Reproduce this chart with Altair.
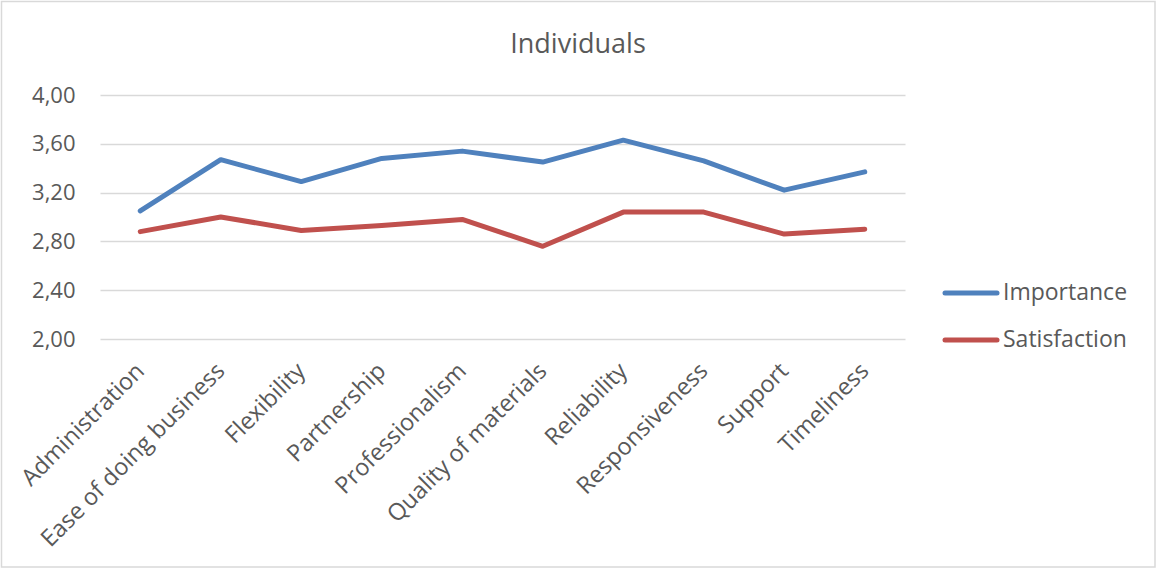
import altair as alt
import pandas as pd

# Survey attributes and mean scores for the "Individuals" segment
categories = [
    "Administration", "Ease of doing business", "Flexibility", "Partnership",
    "Professionalism", "Quality of materials", "Reliability", "Responsiveness",
    "Support", "Timeliness",
]
importance = [3.05, 3.47, 3.29, 3.48, 3.54, 3.45, 3.63, 3.46, 3.22, 3.37]
satisfaction = [2.88, 3.00, 2.89, 2.93, 2.98, 2.76, 3.04, 3.04, 2.86, 2.90]

series_names = ["Importance", "Satisfaction"]
series_colors = ["#4F81BD", "#C0504D"]
y_ticks = [2.0, 2.4, 2.8, 3.2, 3.6, 4.0]
chart_title = "Individuals"

TEXT = "#595959"
GRID = "#D9D9D9"
FONT = "Open Sans"

rows = []
for name, values in zip(series_names, [importance, satisfaction]):
    for cat, v in zip(categories, values):
        rows.append({"category": cat, "series": name, "value": v})
df = pd.DataFrame(rows)

W, H = 805, 244
PAD_L, PAD_T = 100, 95

lines = alt.Chart(df).mark_line(strokeWidth=5, strokeCap="round", strokeJoin="round").encode(
    x=alt.X("category:N", sort=categories,
            scale=alt.Scale(type="point", padding=0.5),
            axis=alt.Axis(title=None, labelAngle=-45, labelAlign="right", labelBaseline="middle",
                          labelPadding=28, ticks=False, domain=False, grid=False,
                          labelFont=FONT, labelFontSize=23.5, labelColor=TEXT, labelLimit=400)),
    y=alt.Y("value:Q", scale=alt.Scale(domain=[2, 4], nice=False, zero=False),
            axis=alt.Axis(title=None, values=y_ticks, ticks=False, domain=False,
                          labelExpr="replace(format(datum.value, '.2f'), '.', ',')",
                          labelPadding=25, labelFont=FONT, labelFontSize=22, labelColor=TEXT,
                          grid=True, gridColor=GRID, gridWidth=1.5)),
    color=alt.Color("series:N", scale=alt.Scale(domain=series_names, range=series_colors), legend=None),
)

# Chart title, centred over the whole canvas
title = alt.Chart(pd.DataFrame({"label": [chart_title]})).mark_text(
    align="center", baseline="alphabetic", font=FONT, fontSize=27, color=TEXT).encode(
    x=alt.value(578 - PAD_L), y=alt.value(53 - PAD_T), text="label:N")

# Hand-placed legend to the right of the plot
legend_layers = []
for i, (name, color) in enumerate(zip(series_names, series_colors)):
    ypos = 198 + i * 47
    src = pd.DataFrame({"series": [name]})
    legend_layers.append(
        alt.Chart(src).mark_rule(strokeWidth=5, strokeCap="round", color=color).encode(
            x=alt.value(845), x2=alt.value(897), y=alt.value(ypos))
    )
    legend_layers.append(
        alt.Chart(src).mark_text(align="left", baseline="middle", font=FONT, fontSize=23,
                                 color=TEXT).encode(
            x=alt.value(903), y=alt.value(ypos), text="series:N")
    )

# Outer frame around the whole chart
frame = alt.Chart(pd.DataFrame({"label": ["frame"]})).mark_rect(
    filled=False, stroke=GRID, strokeWidth=1.5).encode(
    x=alt.value(-98.5), x2=alt.value(1155 - PAD_L), y=alt.value(-93.5), y2=alt.value(567 - PAD_T))

chart = alt.layer(frame, lines, title, *legend_layers).properties(
    width=W, height=H,
    autosize=alt.AutoSizeParams(type="none"),
    padding={"left": PAD_L, "top": PAD_T, "right": 1157 - PAD_L - W, "bottom": 569 - PAD_T - H},
).configure(
    background="white",
    view=alt.ViewConfig(strokeWidth=0, stroke="transparent"),
)

chart.save("out.html", embed_options={"renderer": "svg", "actions": False})
